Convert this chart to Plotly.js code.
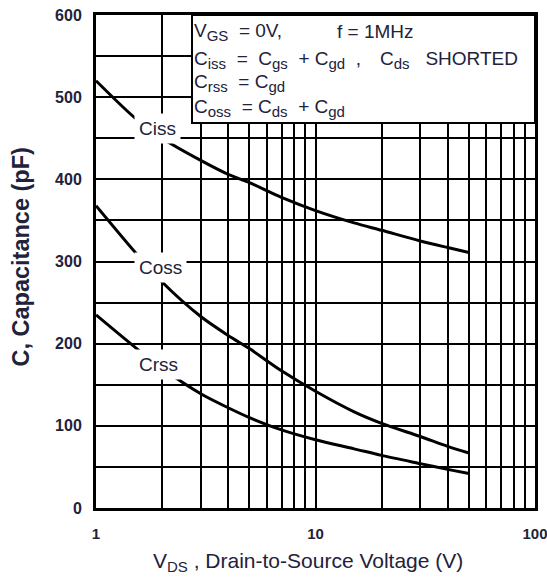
<!DOCTYPE html>
<html>
<head>
<meta charset="utf-8">
<script src="https://cdn.plot.ly/plotly-3.0.1.min.js"></script>
<style>
  html, body { margin: 0; padding: 0; background: #ffffff; }
  #chart { width: 547px; height: 584px; }
</style>
</head>
<body>
<div id="chart"></div>
<script>
// Drain-to-source voltage (V)
const vds = [1, 1.5, 2, 3, 4, 5, 7, 10, 15, 20, 30, 40, 50];
// Capacitances (pF)
const ciss = [520, 475, 450, 423, 406, 396, 378, 362, 347, 338, 325, 317, 311];
const coss = [368, 312, 275, 233, 210, 194, 167, 142, 117, 103, 87, 75, 67];
const crss = [235, 196, 170, 139, 122, 110, 95, 83, 72, 64, 54, 47, 42];

const xTickVals = [1, 10, 100];
const xTickText = ['1', '10', '100'];
const xMinorVals = [2, 3, 4, 5, 6, 7, 8, 9, 20, 30, 40, 50, 60, 70, 80, 90];

const ink = '#22223a';
const face = 'Liberation Sans, Arial, sans-serif';
const sp = '&nbsp;';
const sub = s => '<sub><span style="font-size:15px">' + s + '</span></sub>';

const curve = (y, name) => ({
  x: vds, y: y, name: name, type: 'scatter', mode: 'lines',
  line: { color: '#000000', width: 3, shape: 'spline', smoothing: 0.8 },
  hoverinfo: 'x+y+name'
});

const traces = [curve(ciss, 'Ciss'), curve(coss, 'Coss'), curve(crss, 'Crss')];

// curve labels sit on the lines with a white backing
const curveLabel = (text, xv, yv) => ({
  text: text, x: Math.log10(xv), y: yv, xref: 'x', yref: 'y',
  showarrow: false, bgcolor: '#ffffff', borderpad: 4,
  font: { family: face, size: 19, color: ink }
});

// conditions box text
const note = (text, x, y) => ({
  text: text, x: x, y: y, xref: 'paper', yref: 'paper',
  xanchor: 'left', yanchor: 'middle', showarrow: false,
  font: { family: face, size: 19, color: ink }
});

const layout = {
  width: 547, height: 584,
  margin: { l: 96, r: 12, t: 15, b: 76 },
  paper_bgcolor: '#ffffff', plot_bgcolor: '#ffffff',
  showlegend: false,
  xaxis: {
    type: 'log', range: [0, 2],
    tickmode: 'array', tickvals: xTickVals, ticktext: xTickText,
    ticks: '', ticklabelstandoff: 10, ticklabeloverflow: 'allow',
    tickfont: { family: face, size: 15, color: ink, weight: 'bold' },
    showgrid: true, gridcolor: '#000000', gridwidth: 2,
    minor: { tickmode: 'array', tickvals: xMinorVals, showgrid: true, gridcolor: '#000000', gridwidth: 2, ticks: '' },
    showline: true, linecolor: '#000000', linewidth: 3, mirror: true,
    zeroline: false
  },
  yaxis: {
    range: [0, 600], tick0: 0, dtick: 100,
    ticks: '', ticklabelstandoff: 8,
    tickfont: { family: face, size: 16, color: ink, weight: 'bold' },
    showgrid: true, gridcolor: '#000000', gridwidth: 2,
    minor: { dtick: 50, showgrid: true, gridcolor: '#000000', gridwidth: 2, ticks: '' },
    showline: true, linecolor: '#000000', linewidth: 3, mirror: true,
    zeroline: false
  },
  shapes: [{
    type: 'rect', xref: 'paper', yref: 'paper',
    x0: 0.2187, x1: 1, y0: 0.781, y1: 1,
    fillcolor: '#ffffff', line: { color: '#000000', width: 2 }, layer: 'above'
  }],
  annotations: [
    // axis titles
    {
      text: 'V' + sub('DS') + ' , Drain-to-Source Voltage (V)',
      xref: 'paper', yref: 'paper', x: 0.4818, y: -0.1105,
      xanchor: 'center', yanchor: 'middle', showarrow: false,
      font: { family: face, size: 21, color: ink }
    },
    {
      text: 'C, Capacitance (pF)', textangle: -90,
      xref: 'paper', yref: 'paper', x: -0.1731, y: 0.5081,
      xanchor: 'center', yanchor: 'middle', showarrow: false,
      font: { family: face, size: 23.5, color: ink, weight: 'bold' }
    },
    curveLabel('Ciss', 1.897, 462),
    curveLabel('Coss', 1.957, 293),
    curveLabel('Crss', 1.918, 175),
    note('V' + sub('GS') + sp + ' = 0V,', 0.219, 0.9656),
    note('f = 1MHz', 0.5444, 0.9656),
    note('C' + sub('iss') + sp + ' =  C' + sub('gs') + sp + ' + C' + sub('gd') + sp + ' ,', 0.219, 0.9088),
    note('C' + sub('ds') + sp + sp + ' SHORTED', 0.6424, 0.9088),
    note('C' + sub('rss') + sp + ' = C' + sub('gd'), 0.219, 0.8621),
    note('C' + sub('oss') + sp + ' = C' + sub('ds') + sp + ' + C' + sub('gd'), 0.219, 0.8114)
  ]
};

Plotly.newPlot('chart', traces, layout, { displayModeBar: false, staticPlot: true });
</script>
</body>
</html>
